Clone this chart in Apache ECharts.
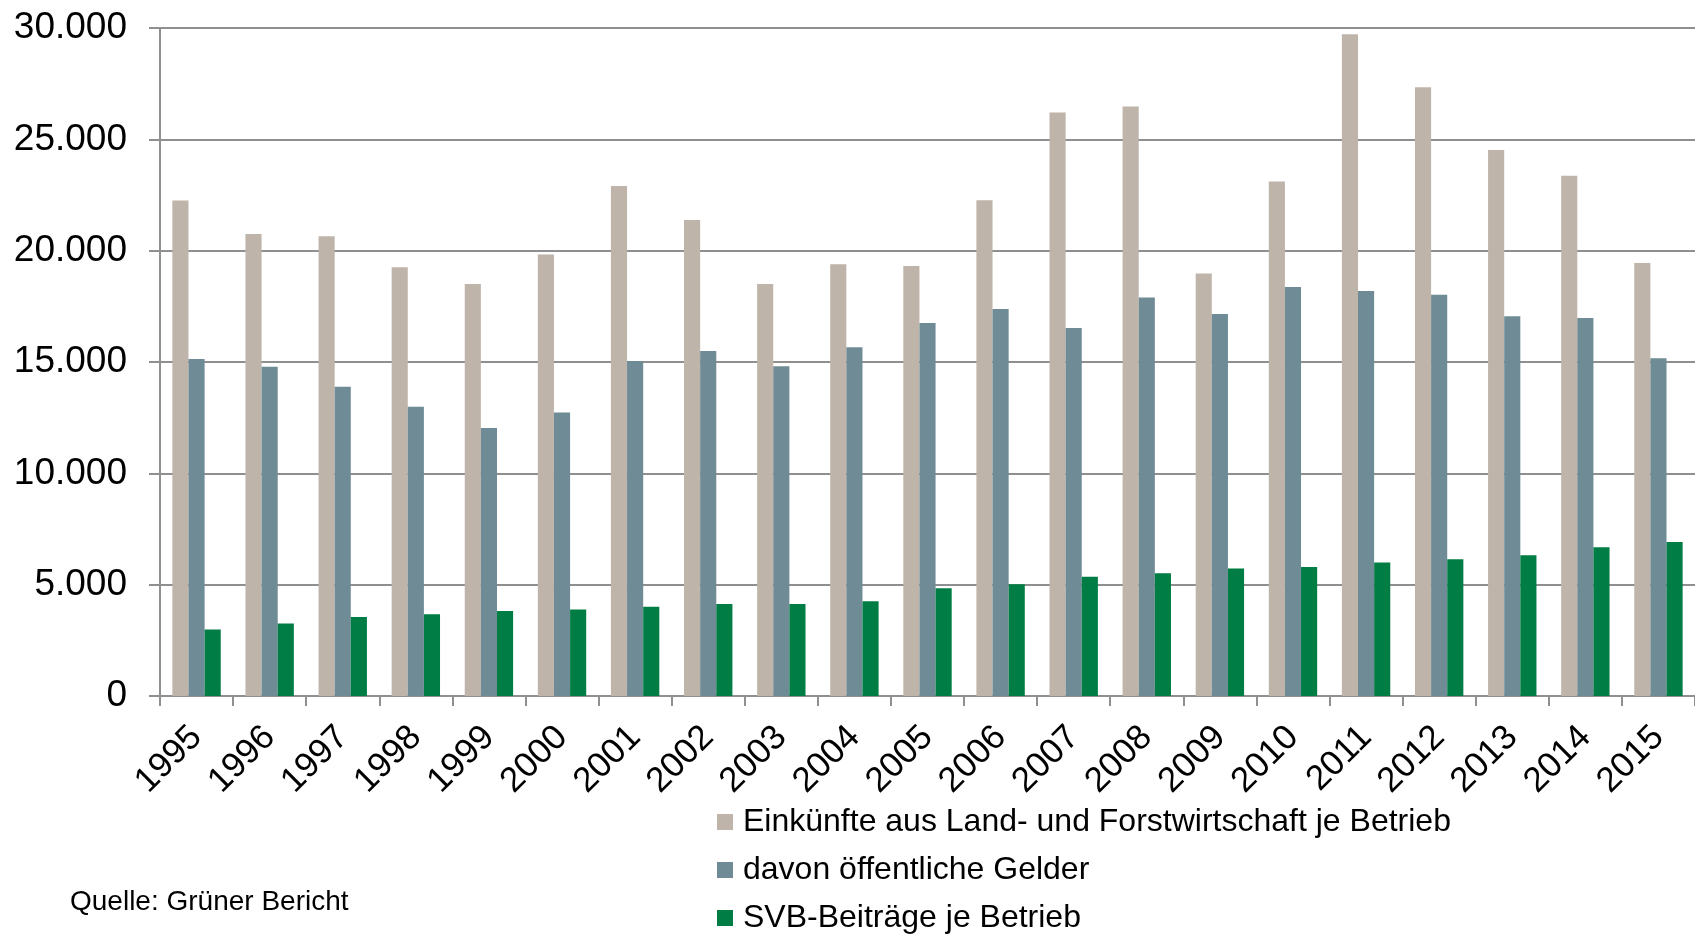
<!DOCTYPE html>
<html>
<head>
<meta charset="utf-8">
<script src="https://cdn.jsdelivr.net/npm/echarts@6/dist/echarts.min.js"></script>
<style>
html,body{margin:0;padding:0;background:#fff;}
#c{width:1695px;height:936px;}
</style>
</head>
<body>
<div id="c"></div>
<script>
const years = ['1995','1996','1997','1998','1999','2000','2001','2002','2003','2004','2005','2006','2007','2008','2009','2010','2011','2012','2013','2014','2015'];
const einkuenfte = [22250,20750,20650,19250,18500,19830,22900,21380,18500,19390,19310,22260,26210,26480,18980,23110,29720,27340,24520,23370,19450];
const oeffentlich = [15140,14790,13890,12990,12040,12730,15050,15490,14810,15660,16750,17380,16530,17900,17160,18370,18190,18020,17050,16980,15170];
const svb = [2990,3260,3550,3670,3820,3890,4010,4130,4130,4250,4840,5020,5360,5510,5730,5790,5990,6140,6320,6680,6920];
const seriesNames = ['Einkünfte aus Land- und Forstwirtschaft je Betrieb','davon öffentliche Gelder','SVB-Beiträge je Betrieb'];
const yTicks = {min:0, max:30000, interval:5000};
const sourceText = 'Quelle: Grüner Bericht';

const FONT = "'Liberation Sans', Arial, sans-serif";
const chart = echarts.init(document.getElementById('c'), null, {renderer:'canvas'});
const fmt = v => String(v).replace(/\B(?=(\d{3})+(?!\d))/g, '.');
const gridColor = '#8f8f8f';

chart.setOption({
  animation:false,
  backgroundColor:'#ffffff',
  textStyle:{fontFamily:FONT},
  grid:{left:160, right:-19, top:28, bottom:240, containLabel:false},
  legend:{
    orient:'vertical', left:717, top:806, itemWidth:16, itemHeight:16, itemGap:16,
    icon:'rect', padding:0,
    textStyle:{fontSize:32, color:'#000', fontFamily:FONT, padding:[0,0,0,5]},
    data:seriesNames
  },
  graphic:[{type:'text', left:70, top:888, style:{text:sourceText, fontSize:28, fill:'#000', fontFamily:FONT}}],
  xAxis:{
    type:'category', data:years,
    axisLine:{lineStyle:{color:gridColor, width:2}},
    axisTick:{show:true, length:10, lineStyle:{color:gridColor, width:2}},
    axisLabel:{rotate:45, fontSize:35, margin:36, color:'#000', interval:0, fontFamily:FONT}
  },
  yAxis:{
    type:'value', min:yTicks.min, max:yTicks.max, interval:yTicks.interval,
    axisLine:{show:true, lineStyle:{color:gridColor, width:2}},
    axisTick:{show:true, length:11, lineStyle:{color:gridColor, width:2}},
    axisLabel:{fontSize:37, margin:33, color:'#000', formatter:fmt, fontFamily:FONT},
    splitLine:{show:true, lineStyle:{color:gridColor, width:2}}
  },
  series:[
    {name:seriesNames[0], type:'bar', data:einkuenfte, itemStyle:{color:'#BFB4AA'}, barGap:'0%', barCategoryGap:'33.8%'},
    {name:seriesNames[1], type:'bar', data:oeffentlich, itemStyle:{color:'#6F8C96'}, barGap:'0%', barCategoryGap:'33.8%'},
    {name:seriesNames[2], type:'bar', data:svb, itemStyle:{color:'#007D45'}, barGap:'0%', barCategoryGap:'33.8%'}
  ]
});
</script>
</body>
</html>
